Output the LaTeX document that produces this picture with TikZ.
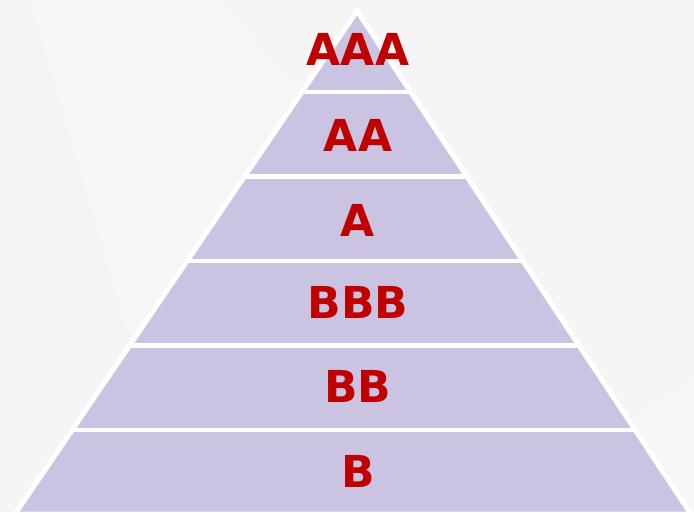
\documentclass[tikz,border=0pt]{standalone}
\usepackage{fontspec}
\newfontfamily\labelfont{DejaVu Sans}
\usetikzlibrary{calc}
\definecolor{bgcol}{HTML}{F5F5F6}
\definecolor{layer}{HTML}{CAC4E2}
\definecolor{labred}{HTML}{C00000}
\tikzset{
  tier/.style={font=\labelfont\bfseries\fontsize{44}{48}\selectfont, text=labred, inner sep=0pt, anchor=center},
  divider/.style={draw=white, line width=4.5pt},
  outline/.style={draw=white, line width=5pt, line join=miter, fill=layer}
}
\begin{document}
\begin{tikzpicture}[x=1pt,y=-1pt]
\useasboundingbox (0,0) rectangle (694,512);
\clip (0,0) rectangle (694,512);
\fill[bgcol] (0,0) rectangle (694,512);
\fill[white, opacity=0.18] (30,0) -- (220,0) -- (600,420) -- (440,512) -- (180,512) -- cycle;
\fill[white, opacity=0.25] (480,512) -- (694,380) -- (694,512) -- cycle;
\coordinate (apex) at (357,11);
\coordinate (bl) at (15,514);
\coordinate (br) at (691,514);
\path[outline] (apex) -- (bl) -- (br) -- cycle;
\begin{scope}
  \clip (apex) -- (bl) -- (br) -- cycle;
  \foreach \yy in {92,176.5,261,345.5,430} {
    \draw[divider] (0,\yy) -- (694,\yy);
  }
\end{scope}
\node[tier] (aaa) at (358,49) {AAA};
\node[tier] (aa)  at (358,135) {AA};
\node[tier] (a)   at (358,220) {A};
\node[tier] (bbb) at (358,302) {BBB};
\node[tier] (bb)  at (358,386) {BB};
\node[tier] (b)   at (358,471) {B};
\end{tikzpicture}
\end{document}
